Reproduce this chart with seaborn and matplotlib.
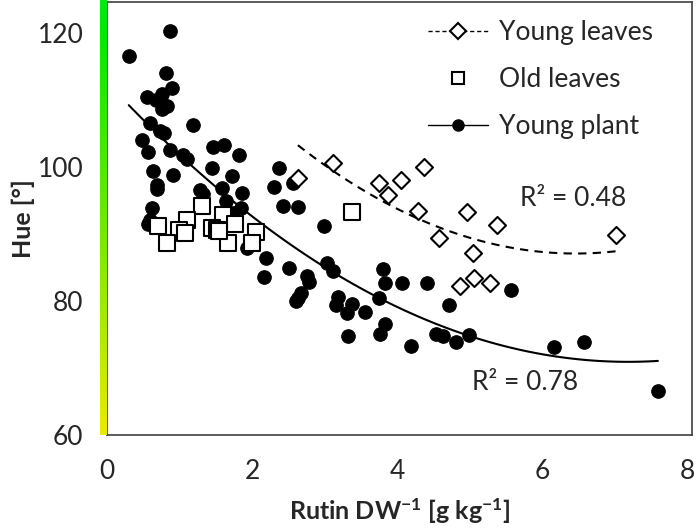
import numpy as np
import pandas as pd
import matplotlib
matplotlib.use('Agg')
import matplotlib.pyplot as plt
import matplotlib.colors as mcolors
from matplotlib.lines import Line2D
import seaborn as sns

# young plant (filled circles)
plant_x = [0.30, 0.87, 0.81, 0.90, 0.55, 0.76, 0.68, 0.83, 0.76, 0.59, 1.18, 0.48, 0.73, 0.79,
           0.56, 0.87, 1.05, 1.10, 1.46, 1.61, 1.82, 1.45, 0.63, 0.91, 1.72, 2.37, 0.69, 0.69,
           1.28, 1.32, 1.58, 1.86, 2.30, 2.56, 1.64, 1.85, 2.42, 2.63, 0.62, 0.59, 0.57, 1.73,
           1.56, 2.99, 1.93, 2.19, 2.51, 2.16, 3.03, 3.11, 2.75, 2.78, 2.67, 2.63, 3.18, 2.61,
           3.15, 3.37, 3.30, 3.55, 3.32, 3.80, 3.83, 4.06, 4.41, 3.75, 3.83, 3.76, 4.19, 4.71,
           4.53, 4.63, 4.81, 4.99, 5.56, 6.16, 6.57, 7.59]
plant_y = [116.6, 120.3, 114.0, 111.8, 110.4, 110.9, 110.0, 109.1, 108.7, 106.6, 106.3, 104.0, 105.4, 105.1,
           102.2, 102.5, 101.8, 101.2, 103.0, 103.3, 101.8, 99.9, 99.4, 98.8, 98.7, 99.9, 97.3, 96.7,
           96.6, 96.0, 96.9, 96.1, 97.0, 97.6, 94.9, 93.9, 94.2, 94.0, 93.9, 92.1, 91.5, 93.1,
           91.5, 91.2, 87.9, 86.4, 84.9, 83.6, 85.7, 84.5, 83.7, 82.8, 81.2, 80.4, 80.6, 80.0,
           79.4, 79.6, 78.2, 78.4, 74.8, 84.8, 82.7, 82.7, 82.7, 80.4, 76.6, 75.1, 73.3, 79.4,
           75.1, 74.8, 73.9, 74.9, 81.6, 73.1, 73.9, 66.6]

# old leaves (open squares)
old_x = [1.31, 1.10, 0.70, 0.99, 1.07, 0.83, 1.60, 1.45, 1.51, 1.76, 1.67, 2.05, 2.00, 1.54, 3.37]
old_y = [94.2, 92.1, 91.2, 90.6, 90.1, 88.7, 92.8, 90.9, 90.6, 91.5, 88.7, 90.3, 88.7, 90.4, 93.3]

# young leaves (open diamonds)
young_x = [3.11, 2.63, 3.75, 3.87, 4.05, 4.37, 4.28, 4.57, 4.96, 5.37, 5.04, 4.86, 5.06, 5.28, 7.01]
young_y = [100.6, 98.4, 97.6, 95.8, 98.1, 100.0, 93.4, 89.4, 93.3, 91.3, 87.2, 82.2, 83.4, 82.7, 89.9]

plant = pd.DataFrame({'x': plant_x, 'y': plant_y})
old = pd.DataFrame({'x': old_x, 'y': old_y})
young = pd.DataFrame({'x': young_x, 'y': young_y})

sns.set_style('white')
plt.rcParams['font.family'] = ['Lato', 'DejaVu Sans']
plt.rcParams['mathtext.fontset'] = 'custom'
plt.rcParams['mathtext.rm'] = 'Lato:bold'
plt.rcParams['mathtext.default'] = 'rm'

fig = plt.figure(figsize=(7, 5.28), dpi=100)
ax = fig.add_axes([107/700, 93/528, 585/700, 433/528])

# quadratic trend lines
sns.regplot(data=plant, x='x', y='y', order=2, ci=None, scatter=False, ax=ax,
            line_kws={'color': 'black', 'lw': 1.5})
sns.regplot(data=young, x='x', y='y', order=2, ci=None, scatter=False, ax=ax,
            line_kws={'color': 'black', 'lw': 1.5, 'ls': (0, (4, 3))})

sns.scatterplot(data=plant, x='x', y='y', marker='o', s=95, color='black', edgecolor='black', ax=ax, zorder=3)
sns.scatterplot(data=old, x='x', y='y', marker='s', s=120, facecolor='white', edgecolor='black',
                linewidth=1.5, ax=ax, zorder=3)
sns.scatterplot(data=young, x='x', y='y', marker='D', s=75, facecolor='white', edgecolor='black',
                linewidth=1.5, ax=ax, zorder=3)

ax.set_xlim(0, 8.06)
ax.set_ylim(60, 124.6)
ax.set_xticks([0, 2, 4, 6, 8])
ax.set_yticks([60, 80, 100, 120])
ax.tick_params(direction='in', length=6, width=1, labelsize=19, pad=17, color='#404040')
for s in ax.spines.values():
    s.set_color('#404040')
    s.set_linewidth(1.2)

ax.set_xlabel('Rutin DW$^{-1}$ [g kg$^{-1}$]', fontsize=18, fontweight='bold', labelpad=9)
ax.set_ylabel('Hue [°]', fontsize=18, fontweight='bold', labelpad=2)

ax.text(573, 528 - 198, 'R² = 0.48', transform=None, fontsize=19, ha='center', va='center')
ax.text(525, 528 - 383, 'R² = 0.78', transform=None, fontsize=19, ha='center', va='center')

handles = [
    Line2D([], [], color='black', ls=(0, (3, 2)), lw=1, marker='D', markersize=8,
           markerfacecolor='white', markeredgecolor='black', markeredgewidth=1.5),
    Line2D([], [], ls='none', marker='s', markersize=8, markerfacecolor='white',
           markeredgecolor='black', markeredgewidth=1.5),
    Line2D([], [], color='black', lw=1, marker='o', markersize=8, markerfacecolor='black'),
]
ax.legend(handles, ['Young leaves', 'Old leaves', 'Young plant'], loc='upper right',
          bbox_to_anchor=(0.965, 1.0), frameon=False, fontsize=19, handlelength=2.3,
          handletextpad=0.4, labelspacing=0.82, borderaxespad=0.3)

# hue colour strip next to the y axis
cax = fig.add_axes([100/700, 93/528, 7/700, 435/528])
hues = np.linspace(60, 124.6, 200)[::-1] / 360.0
rgb = mcolors.hsv_to_rgb(np.stack([hues, np.ones_like(hues), np.full_like(hues, 0.92)], axis=1))
cax.imshow(rgb[:, None, :], aspect='auto')
cax.axis('off')

fig.savefig('out.png', dpi=100)
